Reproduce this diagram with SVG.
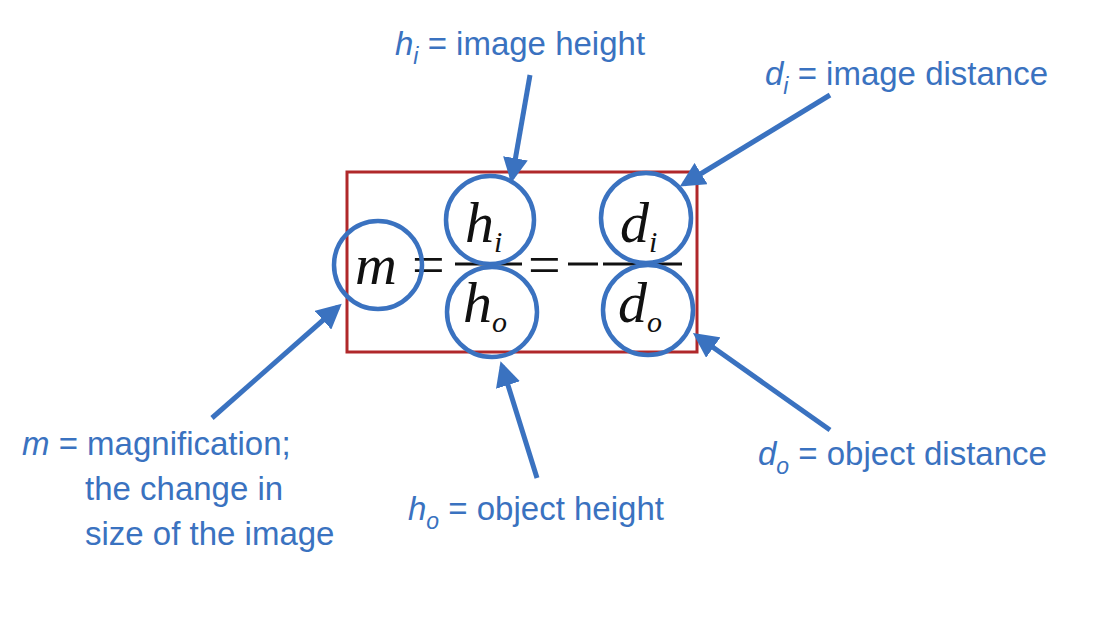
<svg xmlns="http://www.w3.org/2000/svg" width="1119" height="625" viewBox="0 0 1119 625">
<style>
.lbl{font-family:"Liberation Sans",Arial,sans-serif;font-size:33px;fill:#3a72c0}
.eq{font-family:"Liberation Serif","Times New Roman",serif;font-size:58px;fill:#111}
.it{font-style:italic}
.sub{font-size:23px;font-style:italic}
.eqsub{font-size:30px}
.c{fill:none;stroke:#3a72c0;stroke-width:4.5}
.a{stroke:#3a72c0;stroke-width:5;fill:none;marker-end:url(#ah)}
</style>
<defs><marker id="ah" viewBox="0 0 10 10" refX="8" refY="5" markerWidth="5" markerHeight="5" orient="auto" markerUnits="strokeWidth"><path d="M0,0L10,5L0,10z" fill="#3a72c0"/></marker></defs>
<rect width="1119" height="625" fill="#fff"/>
<g id="equation">
<rect x="347" y="172" width="350" height="180" fill="none" stroke="#b0282a" stroke-width="3"/>
<text class="eq it" x="355" y="284">m</text>
<text class="eq" x="412" y="284">=</text>
<line x1="455" y1="264" x2="522" y2="264" stroke="#111" stroke-width="3"/>
<text class="eq it" x="465" y="242">h<tspan class="eqsub" dy="10">i</tspan></text>
<text class="eq it" x="463" y="322">h<tspan class="eqsub" dy="10">o</tspan></text>
<text class="eq" x="528" y="284">=</text>
<line x1="568" y1="264" x2="598" y2="264" stroke="#111" stroke-width="3"/>
<line x1="603" y1="264" x2="682" y2="264" stroke="#111" stroke-width="3"/>
<text class="eq it" x="620" y="242">d<tspan class="eqsub" dy="10">i</tspan></text>
<text class="eq it" x="618" y="322">d<tspan class="eqsub" dy="10">o</tspan></text>
</g>
<g id="circles">
<circle class="c" cx="378" cy="265" r="44"/>
<circle class="c" cx="490" cy="220" r="44"/>
<circle class="c" cx="492" cy="312" r="45"/>
<circle class="c" cx="646" cy="218" r="45"/>
<circle class="c" cx="648" cy="310" r="45"/>
</g>
<g id="connectors">
<line class="a" x1="530" y1="75" x2="512" y2="178"/>
<line class="a" x1="830" y1="95" x2="684" y2="184"/>
<line class="a" x1="212" y1="418" x2="338" y2="307"/>
<line class="a" x1="537" y1="478" x2="502" y2="366"/>
<line class="a" x1="830" y1="430" x2="697" y2="336"/>
</g>
<g id="labels">
<text class="lbl" x="395" y="55"><tspan class="it">h</tspan><tspan class="sub" dy="9">i</tspan><tspan dy="-9"> = image height</tspan></text>
<text class="lbl" x="765" y="85"><tspan class="it">d</tspan><tspan class="sub" dy="9">i</tspan><tspan dy="-9"> = image distance</tspan></text>
<text class="lbl" x="22" y="455"><tspan class="it">m</tspan> = magnification;</text>
<text class="lbl" x="85" y="500">the change in</text>
<text class="lbl" x="85" y="545">size of the image</text>
<text class="lbl" x="408" y="520"><tspan class="it">h</tspan><tspan class="sub" dy="9">o</tspan><tspan dy="-9"> = object height</tspan></text>
<text class="lbl" x="758" y="465"><tspan class="it">d</tspan><tspan class="sub" dy="9">o</tspan><tspan dy="-9"> = object distance</tspan></text>
</g>
</svg>
